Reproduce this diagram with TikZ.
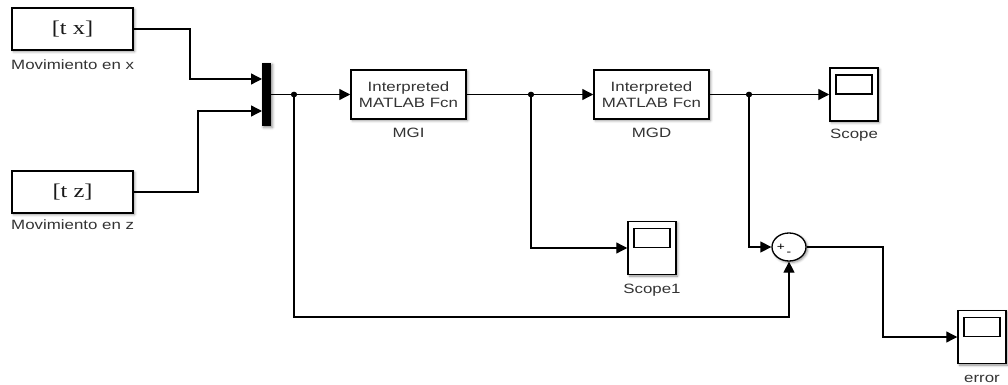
\documentclass[tikz,border=0pt]{standalone}
\usepackage{fontspec}
\setmainfont{Liberation Sans}[FakeStretch=1.25]
\newfontfamily\blkserif{Liberation Serif}[FakeStretch=1.25]
\usetikzlibrary{arrows.meta,shapes.geometric,shadows.blur}

\begin{document}
\begin{tikzpicture}[x=1pt,y=-1pt,
  wire/.style={line width=1.3pt, draw=black},
  sig/.style={wire, -{Triangle[length=11pt,width=11pt]}},
  softshadow/.style={blur shadow={shadow xshift=1.5pt, shadow yshift=-1.5pt, shadow blur radius=2.5pt, shadow opacity=45}},
  block/.style={draw, line width=1.5pt, fill=white, inner sep=0pt, align=center, softshadow,
    text=black!80, font=\fontsize{13.5}{16}\selectfont},
  srcblock/.style={block, minimum width=121pt, minimum height=42pt, text=black!90,
    font=\blkserif\fontsize{19.5}{21}\selectfont},
  fcnblock/.style={block, minimum width=115pt, minimum height=49pt},
  scopebox/.style={block, minimum width=48pt, minimum height=53pt},
  screen/.style={draw, line width=1.3pt, minimum width=36pt, minimum height=19pt, inner sep=0pt, anchor=north},
  lbl/.style={text=black!80, font=\fontsize{13.5}{15}\selectfont, inner sep=0pt, anchor=base},
  junction/.style={fill=black}
]
\useasboundingbox (0,0) rectangle (1008,385);

% sources
\node[srcblock] (tx) at (72.5,29) {[t x]};
\node[lbl, anchor=base west] (txl) at (11,70) {Movimiento en x};
\node[srcblock] (tz) at (72.5,192) {[t z]};
\node[lbl, anchor=base west] (tzl) at (11,229) {Movimiento en z};

% mux bar
\node[fill=black, minimum width=9pt, minimum height=63pt, inner sep=0pt, softshadow] (mux) at (266.5,94.5) {};
\coordinate (mi1) at (262,79);
\coordinate (mi2) at (262,111);

% function blocks
\node[fcnblock] (mgi) at (408.5,94.5) {Interpreted\\MATLAB Fcn};
\node[lbl] (mgil) at (408.5,137) {MGI};
\node[fcnblock] (mgd) at (651.5,94.5) {Interpreted\\MATLAB Fcn};
\node[lbl] (mgdl) at (651.5,137) {MGD};

% scopes
\node[scopebox] (scope) at (854,94.5) {};
\node[screen] (scopes) at ([yshift=-7pt]scope.north) {};
\node[lbl] (scopel) at (854,139) {Scope};
\node[scopebox] (scope1) at (652,248) {};
\node[screen] (scope1s) at ([yshift=-7pt]scope1.north) {};
\node[lbl] (scope1l) at (652,293) {Scope1};
\node[scopebox] (err) at (982,337) {};
\node[screen] (errs) at ([yshift=-7pt]err.north) {};
\node[lbl] (errl) at (982,382) {error};

% sum
\node[draw, ellipse, line width=1.3pt, fill=white, softshadow, minimum width=34pt, minimum height=28pt, inner sep=0pt] (sum) at (789,247) {};
\node[inner sep=0pt, font=\fontsize{11}{11}\selectfont] (plus) at (781,247.5) {+};
\node[inner sep=0pt, font=\fontsize{11}{11}\selectfont] (minus) at (789,254) {-};

% branch points
\coordinate (b1) at (294,94.5);
\coordinate (b2) at (531,94.5);
\coordinate (b3) at (749,94.5);

% connections
\draw[sig] (tx.east) -- (190,29) |- (mi1);
\draw[sig] (tz.east) -- (198,192) |- (mi2);
\draw[sig] (mux.east) -- (mgi.west);
\draw[sig] (mgi.east) -- (mgd.west);
\draw[sig] (mgd.east) -- (scope.west);
\draw[sig] (b2) |- (scope1.west);
\draw[sig] (b3) |- (sum.west);
\draw[sig] (b1) -- (294,317) -| (sum.south);
\draw[sig] (sum.east) -- (883,247) |- (err.west);

\foreach \b in {b1,b2,b3}
  \fill[junction] (\b) ellipse[x radius=3.2, y radius=2.8];
\end{tikzpicture}
\end{document}
